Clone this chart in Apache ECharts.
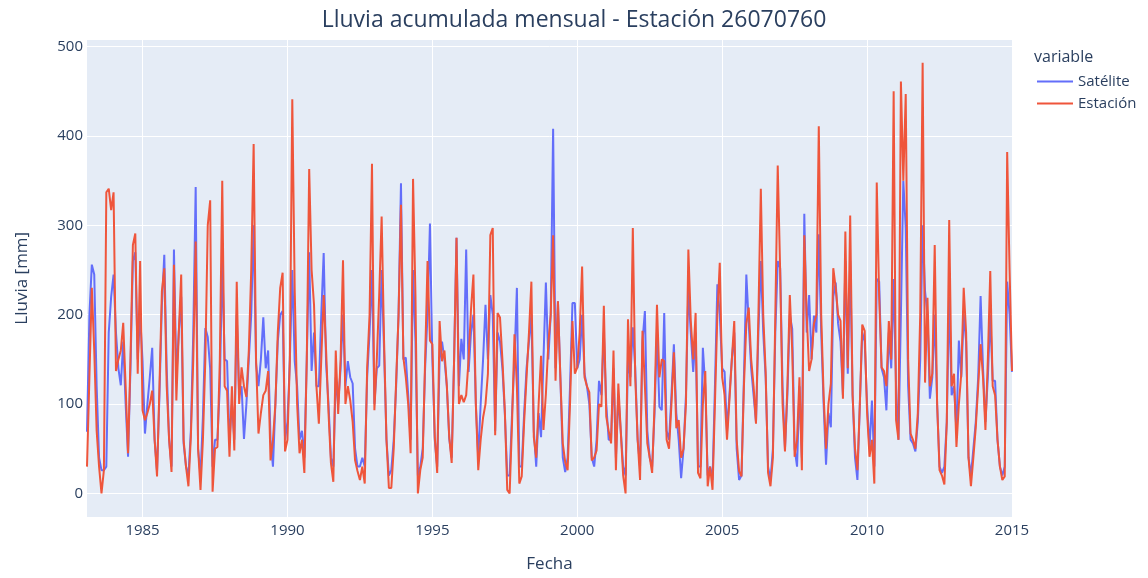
<!DOCTYPE html>
<html>
<head>
<meta charset="utf-8">
<script src="https://cdn.jsdelivr.net/npm/echarts@6/dist/echarts.min.js"></script>
<style>
html,body{margin:0;padding:0;background:#fff;}
#chart{width:1148px;height:578px;}
</style>
</head>
<body>
<div id="chart"></div>
<script>
// Monthly totals, Jan 1983 .. Dec 2014 (one row per year)
const startYear = 1983;
const endYear = 2014;

const estacion = [
  30, 130, 230, 160, 70, 30, 0, 26, 337, 341, 317, 337,
  137, 150, 160, 191, 120, 45, 150, 278, 291, 134, 260, 93,
  82, 90, 100, 115, 60, 19, 120, 226, 252, 120, 60, 24,
  256, 104, 180, 245, 60, 30, 8, 63, 150, 282, 50, 4,
  60, 150, 300, 328, 2, 50, 52, 150, 350, 120, 115, 41,
  120, 48, 237, 100, 141, 120, 108, 160, 250, 391, 150, 67,
  90, 110, 115, 137, 37, 60, 100, 180, 230, 247, 47, 60,
  150, 441, 228, 100, 45, 60, 23, 150, 363, 250, 211, 120,
  78, 150, 222, 160, 90, 34, 13, 160, 89, 150, 261, 100,
  120, 104, 80, 37, 25, 15, 30, 11, 141, 200, 369, 93,
  150, 223, 310, 171, 60, 6, 6, 50, 126, 200, 323, 152,
  130, 100, 45, 352, 222, 0, 26, 40, 150, 260, 171, 167,
  63, 23, 193, 148, 160, 120, 63, 34, 150, 286, 100, 110,
  102, 110, 150, 206, 245, 100, 26, 60, 85, 100, 134, 289,
  297, 65, 202, 197, 150, 93, 4, 0, 80, 178, 120, 11,
  19, 80, 130, 180, 237, 63, 40, 100, 154, 71, 111, 167,
  200, 289, 126, 215, 130, 56, 35, 26, 100, 193, 134, 141,
  180, 254, 130, 120, 113, 37, 40, 48, 100, 97, 210, 86,
  70, 56, 160, 26, 123, 70, 20, 0, 195, 120, 297, 130,
  60, 15, 182, 120, 56, 40, 23, 100, 211, 130, 150, 148,
  60, 50, 100, 158, 73, 82, 40, 50, 100, 273, 193, 150,
  202, 23, 17, 100, 137, 8, 30, 4, 100, 200, 258, 130,
  110, 60, 104, 150, 193, 60, 25, 19, 120, 190, 208, 150,
  120, 78, 200, 341, 200, 136, 23, 8, 40, 200, 367, 250,
  100, 47, 120, 222, 160, 41, 60, 130, 26, 289, 200, 137,
  150, 190, 200, 411, 200, 110, 50, 100, 123, 252, 230, 200,
  193, 106, 293, 140, 311, 110, 50, 26, 100, 189, 182, 90,
  41, 60, 11, 348, 220, 141, 137, 120, 193, 150, 450, 82,
  60, 461, 350, 447, 150, 67, 60, 50, 90, 200, 482, 124,
  219, 120, 134, 278, 100, 26, 20, 10, 80, 306, 120, 134,
  52, 100, 134, 230, 180, 40, 8, 40, 74, 120, 167, 130,
  71, 150, 249, 120, 110, 60, 30, 15, 19, 382, 250, 137
];

const satelite = [
  69, 200, 256, 245, 120, 40, 26, 26, 30, 180, 220, 245,
  180, 140, 121, 170, 100, 41, 140, 260, 270, 150, 200, 148,
  67, 100, 130, 163, 60, 25, 110, 210, 267, 140, 60, 30,
  273, 130, 180, 220, 56, 30, 20, 70, 180, 343, 50, 20,
  86, 185, 175, 140, 30, 60, 60, 120, 260, 150, 148, 60,
  100, 60, 200, 110, 120, 61, 100, 150, 200, 300, 145, 120,
  150, 197, 140, 160, 60, 30, 100, 170, 200, 204, 60, 80,
  150, 250, 148, 120, 60, 70, 40, 150, 270, 137, 180, 120,
  120, 200, 269, 145, 100, 40, 30, 130, 100, 140, 200, 120,
  148, 130, 123, 50, 30, 30, 40, 30, 130, 180, 250, 100,
  140, 143, 250, 160, 60, 20, 26, 60, 120, 200, 347, 150,
  152, 110, 60, 250, 170, 20, 30, 50, 140, 200, 302, 150,
  60, 30, 150, 170, 150, 120, 61, 40, 150, 286, 120, 173,
  150, 273, 136, 180, 200, 100, 40, 100, 150, 211, 150, 222,
  200, 70, 180, 170, 140, 90, 20, 20, 90, 150, 230, 30,
  30, 90, 140, 170, 200, 70, 30, 90, 63, 150, 236, 150,
  200, 408, 140, 215, 130, 40, 24, 40, 120, 213, 213, 140,
  150, 200, 134, 120, 100, 40, 30, 60, 126, 110, 180, 100,
  60, 60, 140, 40, 110, 70, 30, 20, 150, 130, 186, 140,
  60, 30, 170, 204, 70, 40, 30, 90, 180, 97, 93, 202,
  70, 60, 110, 167, 90, 60, 17, 50, 110, 230, 180, 136,
  180, 30, 30, 163, 120, 20, 30, 15, 120, 234, 200, 140,
  136, 70, 110, 150, 180, 50, 15, 20, 130, 245, 190, 140,
  110, 80, 180, 260, 180, 130, 30, 15, 50, 180, 260, 252,
  120, 50, 110, 200, 184, 50, 30, 120, 40, 313, 180, 222,
  150, 199, 180, 290, 180, 100, 32, 90, 74, 220, 236, 190,
  170, 110, 260, 134, 260, 110, 40, 15, 100, 180, 170, 100,
  50, 104, 30, 240, 237, 140, 130, 93, 180, 140, 240, 120,
  60, 200, 350, 297, 120, 60, 56, 47, 80, 150, 300, 226,
  200, 106, 130, 200, 100, 30, 23, 30, 80, 220, 110, 120,
  70, 171, 130, 200, 170, 40, 20, 50, 80, 130, 221, 140,
  80, 130, 200, 126, 126, 60, 30, 20, 30, 237, 200, 136
];

const seriesNames = ['Satélite', 'Estación'];
const seriesColors = ['#636EFA', '#EF553B'];
const yTicks = [0, 100, 200, 300, 400, 500];

// Month-end categories (labelled by the year that begins right after them)
const months = [];
for (let y = startYear; y <= endYear; y++) {
  for (let m = 1; m <= 12; m++) {
    months.push(y + '-' + (m < 10 ? '0' + m : m));
  }
}

function isFiveYearMark(index, value) {
  const parts = String(value).split('-');
  const yr = Number(parts[0]) + 1;
  return parts[1] === '12' && yr % 5 === 0;
}

const font = '"Open Sans", "Noto Sans", Arial, sans-serif';
const txt = '#2a3f5f';

const chart = echarts.init(document.getElementById('chart'), null, {renderer: 'canvas'});
chart.setOption({
  backgroundColor: '#ffffff',
  animation: false,
  title: {
    text: 'Lluvia acumulada mensual - Estación 26070760',
    left: 'center',
    top: 4,
    textStyle: {fontFamily: font, fontSize: 23, fontWeight: 'normal', color: txt}
  },
  graphic: [{
    type: 'text',
    left: 1034,
    top: 49,
    style: {text: 'variable', fontFamily: font, fontSize: 16, fill: txt}
  }],
  legend: {
    orient: 'vertical',
    left: 1037,
    top: 74,
    padding: 0,
    icon: 'rect',
    itemWidth: 36,
    itemHeight: 2,
    itemGap: 7,
    data: seriesNames,
    textStyle: {fontFamily: font, fontSize: 15, color: txt}
  },
  grid: {
    left: 87,
    right: 136,
    top: 39.5,
    bottom: 56.5,
    show: true,
    backgroundColor: '#E5ECF6',
    borderWidth: 0,
    containLabel: false
  },
  xAxis: {
    type: 'category',
    data: months,
    boundaryGap: false,
    name: 'Fecha',
    nameLocation: 'middle',
    nameGap: 39,
    nameTextStyle: {fontFamily: font, fontSize: 17, color: txt},
    axisLine: {show: false},
    axisTick: {show: false},
    axisLabel: {
      interval: isFiveYearMark,
      formatter: function (value) { return String(Number(value.split('-')[0]) + 1); },
      fontFamily: font, fontSize: 15, color: txt, margin: 6
    },
    splitLine: {show: true, interval: isFiveYearMark, lineStyle: {color: '#ffffff', width: 1}}
  },
  yAxis: {
    type: 'value',
    min: -26.4,
    max: 508,
    splitNumber: 5,
    name: 'Lluvia [mm]',
    nameLocation: 'middle',
    nameGap: 56,
    nameRotate: 90,
    nameTextStyle: {fontFamily: font, fontSize: 17, color: txt},
    axisLine: {show: false},
    axisTick: {show: false},
    axisLabel: {
      showMinLabel: false,
      showMaxLabel: false,
      formatter: function (v) { return yTicks.indexOf(v) >= 0 ? String(v) : ''; },
      fontFamily: font, fontSize: 15, color: txt, margin: 4
    },
    splitLine: {show: true, lineStyle: {color: '#ffffff', width: 1}}
  },
  series: [
    {
      name: seriesNames[0],
      type: 'line',
      data: satelite,
      symbol: 'none',
      color: seriesColors[0],
      lineStyle: {color: seriesColors[0], width: 2},
      z: 2
    },
    {
      name: seriesNames[1],
      type: 'line',
      data: estacion,
      symbol: 'none',
      color: seriesColors[1],
      lineStyle: {color: seriesColors[1], width: 2},
      z: 3
    }
  ]
});
</script>
</body>
</html>
